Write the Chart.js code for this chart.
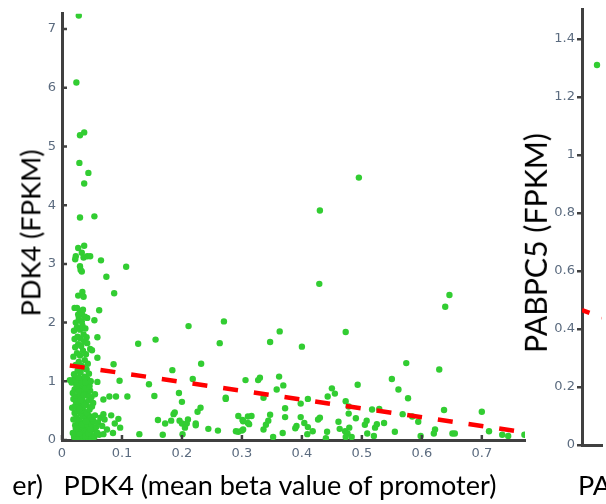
<!DOCTYPE html>
<html>
<head>
<meta charset="utf-8">
<script src="https://cdn.jsdelivr.net/npm/chart.js@4"></script>
<style>
  html, body { margin:0; padding:0; background:#fff; }
  body { width:606px; height:504px; position:relative; overflow:hidden; }
  canvas { position:absolute; }
  .t { position:absolute; font-family: Lato, "Noto Sans", sans-serif; color:#000; white-space:nowrap; line-height:1; }
</style>
</head>
<body>
<canvas id="main" style="left:0;top:0;width:540px;height:470px" width="540" height="470"></canvas>
<canvas id="right" style="left:540px;top:0;width:66px;height:504px" width="66" height="504"></canvas>
<div class="t" id="ytitle">PDK4 (FPKM)</div>
<div class="t" id="xtitle">PDK4 (mean beta value of promoter)</div>
<div class="t" id="ltail">er)</div>
<div class="t" id="rytitle">PABPC5 (FPKM)</div>
<div class="t" id="rhead">PA</div>
<script>
// ---------- DATA ----------
const xTicksMain = [0, 0.1, 0.2, 0.3, 0.4, 0.5, 0.6, 0.7];
const xTickLabelsMain = ["0", "0.1", "0.2", "0.3", "0.4", "0.5", "0.6", "0.7"];
const yTicksMain = [0, 1, 2, 3, 4, 5, 6, 7];
const yTickLabelsMain = ["0", "1", "2", "3", "4", "5", "6", "7"];

const yTicksRight = [0, 0.2, 0.4, 0.6, 0.8, 1, 1.2, 1.4];
const yTickLabelsRight = ["0", "0.2", "0.4", "0.6", "0.8", "1", "1.2", "1.4"];

// PDK4: mean beta value of promoter (x) and expression FPKM (y)
const pdk4Beta = [
  // high outliers near low beta
  .028,.024,.030,.037,.029,.044,.037,.030,.054,.027,.037,.023,.022,.033,.036,.042,.047,.030,.033,.031,.065,.107,.074,.087,.027,.034,.036,.025,.030,.033,.028,.062,.054,.042,
  // dense cluster, low y
  .020,.024,.028,.031,.035,.038,.042,.046,.050,.026,.030,.033,.037,.041,.044,.048,.052,.022,.027,.032,.036,.040,.045,.049,.053,.057,.019,.024,.029,.034,.039,.043,.047,.051,.055,.021,.026,.031,.036,.041,.046,.018,.023,.029,.034,.039,.044,.049,.054,.058,.062,.060,.064,.067,.071,.075,.025,.033,.040,.047,
  // dense cluster, mid y
  .017,.022,.027,.032,.036,.041,.045,.050,.019,.024,.029,.034,.038,.043,.047,.021,.026,.031,.035,.040,.044,.016,.020,.025,.030,.034,.038,.042,.023,.028,.033,.037,.046,.018,.049,.052,.055,.013,.027,.036,.031,.039,.024,.029,.048,
  // dense cluster, upper y
  .020,.026,.031,.036,.041,.045,.023,.028,.033,.038,.043,.019,.025,.030,.035,.040,.047,.022,.027,.032,.037,.042,.021,.026,.031,.036,.041,.020,.025,.030,.034,.039,.023,.028,.033,.038,.027,.032,.021,.035,
  // beta 0.05 - 0.31
  .127,.156,.211,.270,.263,.059,.050,.059,.086,.184,.232,.218,.096,.145,.306,.059,.079,.090,.109,.154,.069,.195,.200,.273,.273,.226,.231,.186,.188,.160,.172,.182,.196,.200,.208,.210,.223,.223,.244,.260,.129,.168,.201,.205,.290,.294,.300,.294,.301,.310,.310,
  .069,.082,.094,.097,.088,.085,.059,.069,
  // beta 0.3 - 0.77
  .429,.646,.639,.347,.363,.400,.473,.574,.629,.327,.330,.336,.362,.369,.358,.410,.398,.372,.372,.450,.455,.443,.473,.478,.478,.493,.550,.561,.577,.517,.529,.568,.584,.637,.700,
  .316,.302,.312,.347,.344,.340,.336,.391,.389,.404,.410,.418,.409,.398,.427,.430,.442,.440,.461,.463,.472,.479,.476,.473,.483,.490,.508,.505,.509,.522,.525,.520,.537,.555,.594,.598,.622,.620,.651,.655,.712,.734,.744,.771,.302,.352,.368,.495,.430
];
const pdk4Fpkm = [
  7.23,6.09,5.19,5.24,4.72,4.55,4.37,3.79,3.81,3.27,3.31,3.13,3.08,3.19,3.11,3.13,3.13,2.96,2.87,2.90,3.06,2.95,2.78,2.50,2.46,2.52,2.44,2.25,2.20,2.15,2.10,2.21,2.04,2.08,
  .05,.08,.03,.10,.06,.12,.04,.09,.07,.15,.18,.13,.20,.16,.22,.14,.19,.25,.28,.24,.30,.27,.33,.26,.31,.22,.35,.38,.34,.41,.37,.44,.40,.36,.42,.46,.49,.45,.50,.47,.52,.12,.20,.09,.02,.06,.11,.02,.05,.12,.09,.30,.38,.24,.35,.18,.01,.27,.32,.18,
  .55,.58,.62,.56,.65,.60,.68,.57,.70,.74,.78,.72,.81,.76,.84,.86,.90,.85,.93,.88,.96,.98,1.03,1.00,1.05,1.02,1.08,1.04,.66,.83,.97,.59,.92,.80,.73,.63,.78,1.02,1.07,.76,.68,.98,.93,.53,1.00,
  1.12,1.18,1.15,1.22,1.20,1.13,1.28,1.33,1.26,1.36,1.30,1.42,1.48,1.44,1.52,1.46,1.55,1.58,1.63,1.60,1.68,1.65,1.72,1.76,1.73,1.80,1.75,1.86,1.92,1.88,1.95,1.90,2.00,2.05,2.02,2.10,2.14,2.18,2.25,2.22,
  1.64,1.71,1.94,2.02,1.65,1.75,1.53,1.40,1.29,1.19,1.30,1.04,1.01,.95,1.02,.99,.74,.74,.74,.75,.69,.80,.65,.72,.70,.48,.55,.44,.47,.34,.28,.33,.33,.28,.28,.35,.28,.25,.19,.16,.10,.09,.10,.21,.15,.14,.16,.41,.34,.29,.40,
  .44,.42,.36,.21,.28,.12,.12,.10,
  2.66,2.47,2.27,1.67,1.85,1.59,1.84,1.31,1.20,1.02,1.06,.72,1.08,.93,.86,.70,.62,.54,.39,.88,.79,.74,.66,.57,.45,.94,1.04,.86,.71,.52,.53,.44,.40,.51,.48,
  .41,.32,.27,.43,.33,.26,.18,.24,.20,.29,.22,.15,.10,.39,.35,.38,.14,.03,.31,.19,.15,.21,.11,.05,.05,.37,.33,.26,.11,.21,.27,.07,.29,.14,.31,.07,.18,.11,.11,.11,.15,.09,.07,.09,.18,.05,.12,4.47,3.91
];
// PDK4 regression line end points
const pdk4FitBeta = [0.013, 0.772];
const pdk4FitFpkm = [1.27, 0.13];

// PABPC5 (partially visible panel)
const pabpc5Beta = [0.03];
const pabpc5Fpkm = [1.31];
const pabpc5FitBeta = [0, 0.04];
const pabpc5FitFpkm = [0.465, 0.44];

// ---------- STYLE ----------
const GREEN = 'rgb(50,205,50)';
const AXIS = '#404040';
const TICKC = '#5b6b7f';
const TICKFONT = { family: '"DejaVu Sans", Verdana, sans-serif', size: 13 };

const zip = (a, b) => a.map((v, i) => ({ x: v, y: b[i] }));

const inwardTicks = {
  id: 'inwardTicks',
  afterDatasetsDraw(chart) {
    const { ctx, chartArea: ca, scales } = chart;
    ctx.save();
    ctx.strokeStyle = AXIS;
    ctx.lineWidth = 2.5;
    ctx.beginPath();
    scales.y.ticks.forEach(t => {
      const y = scales.y.getPixelForValue(t.value);
      ctx.moveTo(ca.left, y); ctx.lineTo(ca.left + 5, y);
    });
    scales.x.ticks.forEach(t => {
      const x = scales.x.getPixelForValue(t.value);
      ctx.moveTo(x, ca.bottom); ctx.lineTo(x, ca.bottom - 5);
    });
    ctx.stroke();
    ctx.restore();
  }
};

new Chart(document.getElementById('main'), {
  type: 'scatter',
  data: {
    datasets: [
      { data: zip(pdk4Beta, pdk4Fpkm), backgroundColor: GREEN, borderWidth: 0, pointRadius: 3.2, order: 2 },
      { type: 'line', data: zip(pdk4FitBeta, pdk4FitFpkm), borderColor: '#ff0000', borderWidth: 4.5,
        borderDash: [15, 16], pointRadius: 0, fill: false, order: 1, borderCapStyle: 'butt' }
    ]
  },
  options: {
    responsive: false, animation: false, devicePixelRatio: 1,
    layout: { padding: { top: 13, right: 15, left: 0, bottom: 0 } },
    plugins: { legend: { display: false }, tooltip: { enabled: false } },
    scales: {
      x: {
        type: 'linear', min: 0, max: 0.772,
        afterBuildTicks: s => { s.ticks = xTicksMain.map(v => ({ value: v })); },
        afterFit: s => { s.height = 30; },
        ticks: { callback: (v, i) => xTickLabelsMain[i], color: TICKC, font: TICKFONT, padding: 6, maxRotation: 0, autoSkip: false },
        grid: { display: true, drawOnChartArea: false, drawTicks: false },
        border: { display: true, color: AXIS, width: 3 }
      },
      y: {
        type: 'linear', min: 0, max: 7.26,
        afterBuildTicks: s => { s.ticks = yTicksMain.map(v => ({ value: v })); },
        afterFit: s => { s.width = 62; },
        ticks: { callback: (v, i) => yTickLabelsMain[i], color: TICKC, font: TICKFONT, padding: 6, autoSkip: false },
        grid: { display: true, drawOnChartArea: false, drawTicks: false },
        border: { display: true, color: AXIS, width: 3 }
      }
    }
  },
  plugins: [inwardTicks]
});

new Chart(document.getElementById('right'), {
  type: 'scatter',
  data: {
    datasets: [
      { data: zip(pabpc5Beta, pabpc5Fpkm), backgroundColor: GREEN, borderWidth: 0, pointRadius: 3.2, order: 2 },
      { type: 'line', data: zip(pabpc5FitBeta, pabpc5FitFpkm), borderColor: '#ff0000', borderWidth: 4.5,
        borderDash: [15, 13], borderDashOffset: 7, pointRadius: 0, fill: false, order: 1, borderCapStyle: 'butt' }
    ]
  },
  options: {
    responsive: false, animation: false, devicePixelRatio: 1,
    layout: { padding: { top: 5, right: 0, left: 0, bottom: 0 } },
    plugins: { legend: { display: false }, tooltip: { enabled: false } },
    scales: {
      x: {
        type: 'linear', min: 0, max: 0.04,
        afterFit: s => { s.height = 59; },
        ticks: { display: false },
        grid: { display: true, drawOnChartArea: false, drawTicks: false },
        border: { display: true, color: AXIS, width: 3 }
      },
      y: {
        type: 'linear', min: 0, max: 1.5,
        afterBuildTicks: s => { s.ticks = yTicksRight.map(v => ({ value: v })); },
        afterFit: s => { s.width = 42; },
        ticks: { callback: (v, i) => yTickLabelsRight[i], color: TICKC, font: TICKFONT, padding: 2, autoSkip: false },
        grid: { display: true, drawOnChartArea: false, drawTicks: true, tickLength: 5, color: AXIS, lineWidth: 2.5 },
        border: { display: true, color: AXIS, width: 3 }
      }
    }
  }
});

// ---------- TEXT LAYOUT (fit titles to their measured spans) ----------
const mctx = document.createElement('canvas').getContext('2d');
function fitSize(text, target) {
  mctx.font = '100px Lato';
  return 100 * target / mctx.measureText(text).width;
}
function place(id, cx, cy, target, rotate) {
  const el = document.getElementById(id);
  const size = fitSize(el.textContent, target);
  el.style.fontSize = size.toFixed(2) + 'px';
  el.style.left = cx + 'px';
  el.style.top = cy + 'px';
  el.style.transform = 'translate(-50%,-50%)' + (rotate ? ' rotate(-90deg)' : '');
  return size;
}
const s1 = place('xtitle', 280, 485, 434, false);
place('ytitle', 30, 233, 167, true);
place('rytitle', 535, 243, 220, true);
const tail = document.getElementById('ltail');
tail.style.fontSize = s1.toFixed(2) + 'px';
tail.style.right = (606 - 43) + 'px';
tail.style.top = '485px';
tail.style.transform = 'translateY(-50%)';
const head = document.getElementById('rhead');
head.style.fontSize = s1.toFixed(2) + 'px';
head.style.left = '578px';
head.style.top = '485px';
head.style.transform = 'translateY(-50%)';
</script>
</body>
</html>
